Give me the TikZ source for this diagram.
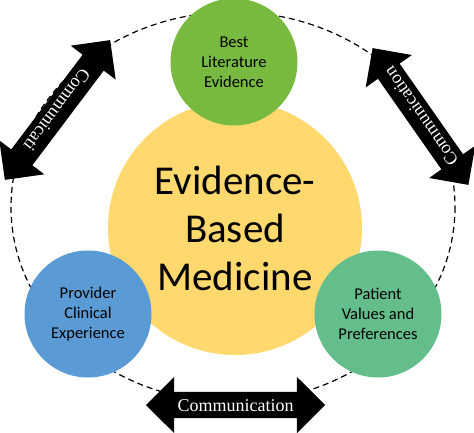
\documentclass[tikz,border=0pt]{standalone}
\usepackage{fontspec}
\setmainfont{Carlito}
\newfontfamily\commfont{Liberation Serif}
\usetikzlibrary{shapes.arrows}

\definecolor{ebmYellow}{RGB}{255,217,110}
\definecolor{ebmGreen}{RGB}{120,186,64}
\definecolor{ebmBlue}{RGB}{91,155,213}
\definecolor{ebmTeal}{RGB}{100,190,140}

\begin{document}
\begin{tikzpicture}[x=1pt,y=-1pt,
    pillar/.style={circle,inner sep=0pt,minimum size=127pt,align=center,
      text=black,font=\fontsize{16.5}{20}\selectfont},
    commarrow/.style={double arrow,fill=black,text=white,inner xsep=2pt,inner ysep=0pt,
      text height=19.4pt,text depth=6.6pt,double arrow head extend=15pt,
      double arrow tip angle=90,font=\commfont\fontsize{18}{20}\selectfont}
  ]
  \useasboundingbox (0,0) rectangle (474,433);
  % dashed ring behind everything
  \draw[dash pattern=on 6pt off 4pt,line width=1.2pt] (233,207) ellipse [x radius=222,y radius=195];
  % centre
  \node (ebm) [circle,fill=ebmYellow,minimum size=254pt,inner sep=0pt,align=center,
    text=black,font=\fontsize{41}{48}\selectfont] at (235,228) {Evidence-\\Based\\Medicine};
  % three pillars
  \node (best) [pillar,fill=ebmGreen] at (234,62) {Best\\Literature\\Evidence};
  \node (provider) [pillar,fill=ebmBlue] at (88,314) {Provider\\Clinical\\Experience};
  \node (patient) [pillar,fill=ebmTeal] at (378,314) {Patient\\Values and\\Preferences};
  % communication arrows
  \node (commL) [commarrow,minimum height=175pt,rotate=233] at (57.5,110) {Communicati};
  \node (commR) [commarrow,minimum height=167pt,rotate=125] at (420.5,116.5) {Communication};
  \node (commB) [commarrow,minimum height=179pt] at (235.5,405) {Communication};
\end{tikzpicture}
\end{document}
